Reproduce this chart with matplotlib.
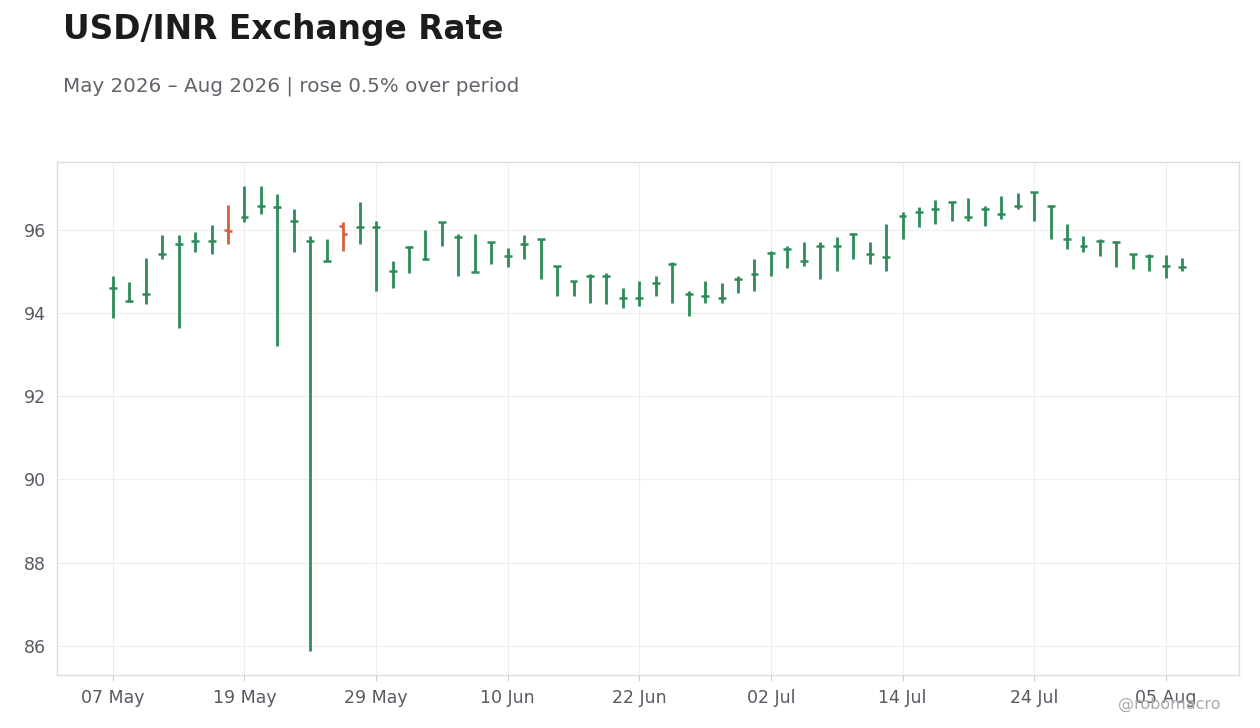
import matplotlib
matplotlib.use("Agg")
import matplotlib.pyplot as plt
import pandas as pd
import numpy as np

start_date = "2026-05-07"
n_days = 66
dates = pd.bdate_range(start_date, periods=n_days)

closes = [94.61, 94.28, 94.45, 95.41, 95.65, 95.72, 95.72, 95.98, 96.30, 96.58,
          96.54, 96.20, 95.74, 95.26, 95.91, 96.06, 96.06, 95.02, 95.58, 95.29,
          96.18, 95.82, 94.98, 95.70, 95.38, 95.67, 95.77, 95.12, 94.76, 94.90,
          94.88, 94.35, 94.35, 94.71, 95.19, 94.45, 94.42, 94.37, 94.81, 94.93,
          95.44, 95.55, 95.24, 95.62, 95.60, 95.89, 95.41, 95.34, 96.32, 96.43,
          96.51, 96.68, 96.30, 96.51, 96.37, 96.58, 96.90, 96.58, 95.79, 95.62,
          95.74, 95.70, 95.41, 95.36, 95.12, 95.10]
opens = [94.61, 94.28, 94.45, 95.41, 95.65, 95.72, 95.72, 96.00, 96.30, 96.58,
         96.54, 96.20, 95.74, 95.26, 96.08, 96.06, 96.06, 95.02, 95.58, 95.29,
         96.18, 95.82, 94.98, 95.70, 95.38, 95.67, 95.77, 95.12, 94.76, 94.90,
         94.88, 94.35, 94.35, 94.71, 95.19, 94.45, 94.42, 94.37, 94.81, 94.93,
         95.44, 95.55, 95.24, 95.62, 95.60, 95.89, 95.41, 95.34, 96.32, 96.43,
         96.51, 96.68, 96.30, 96.51, 96.37, 96.58, 96.90, 96.58, 95.79, 95.62,
         95.74, 95.70, 95.41, 95.36, 95.12, 95.10]
highs = [94.90, 94.75, 95.33, 95.88, 95.88, 95.95, 96.12, 96.60, 97.06, 97.06,
         96.86, 96.50, 95.86, 95.78, 96.19, 96.67, 96.22, 95.26, 95.60, 96.00,
         96.19, 95.90, 95.90, 95.71, 95.57, 95.88, 95.78, 95.14, 94.78, 94.93,
         94.95, 94.60, 94.78, 94.90, 95.22, 94.54, 94.78, 94.71, 94.90, 95.29,
         95.48, 95.62, 95.70, 95.70, 95.82, 95.92, 95.70, 96.13, 96.43, 96.55,
         96.72, 96.70, 96.77, 96.58, 96.82, 96.89, 96.91, 96.60, 96.14, 95.86,
         95.77, 95.72, 95.43, 95.42, 95.40, 95.33]
lows = [93.89, 94.26, 94.21, 95.29, 93.63, 95.46, 95.41, 95.67, 96.18, 96.39,
        93.21, 95.46, 85.88, 95.22, 95.50, 95.65, 94.54, 94.59, 94.95, 95.28,
        95.60, 94.88, 94.98, 95.19, 95.10, 95.31, 94.81, 94.42, 94.40, 94.23,
        94.21, 94.13, 94.18, 94.40, 94.25, 93.94, 94.23, 94.25, 94.47, 94.54,
        94.90, 95.07, 95.14, 94.81, 95.00, 95.31, 95.17, 95.00, 95.77, 96.06,
        96.13, 96.22, 96.22, 96.10, 96.25, 96.49, 96.22, 95.77, 95.53, 95.46,
        95.36, 95.10, 95.05, 95.00, 94.83, 95.00]

title = "USD/INR Exchange Rate"
subtitle = "May 2026 \u2013 Aug 2026 | rose 0.5% over period"
watermark = "@robomacro"

UP = "#2e8b57"
DOWN = "#d4603c"

fig = plt.figure(figsize=(12.6, 7.28), dpi=100)
fig.patch.set_facecolor("white")
ax = fig.add_axes([0.0452, 0.0728, 0.9381, 0.7047])

x = np.arange(n_days)
o = np.array(opens); c = np.array(closes); h = np.array(highs); l = np.array(lows)
colors = [UP if cc >= oo else DOWN for oo, cc in zip(o, c)]

ax.vlines(x, l, h, colors=colors, linewidth=2.0, zorder=3)
tw = 0.24
ax.hlines(o, x - tw, x, colors=colors, linewidth=1.8, zorder=3)
ax.hlines(c, x, x + tw, colors=colors, linewidth=1.8, zorder=3)

ax.set_xlim(-3.40, 68.45)
ax.set_ylim(85.3, 97.63)
ax.set_yticks([86, 88, 90, 92, 94, 96])
tick_idx = list(range(0, n_days, 8))
ax.set_xticks(tick_idx)
ax.set_xticklabels([dates[i].strftime("%d %b") for i in tick_idx])

ax.grid(True, color="#eeeeee", linewidth=0.8, zorder=0)
ax.set_axisbelow(True)
for s in ax.spines.values():
    s.set_color("#dddddd")
    s.set_linewidth(1.0)
ax.tick_params(axis="x", colors="#cccccc", labelcolor="#555a62", labelsize=12.5, length=4, pad=6)
ax.tick_params(axis="y", colors="#cccccc", labelcolor="#555a62", labelsize=12.5, length=0, pad=8)

fig.text(0.05, 0.9588, title, fontsize=23.7, fontweight="bold", color="#1c1c1f", ha="left", va="center")
fig.text(0.05, 0.882, subtitle, fontsize=14.3, color="#62646b", ha="left", va="center")
fig.text(0.969, 0.032, watermark, fontsize=11.5, color="#aaaaaa", ha="right", va="center")

fig.savefig("out.png", dpi=100, facecolor=fig.get_facecolor())
